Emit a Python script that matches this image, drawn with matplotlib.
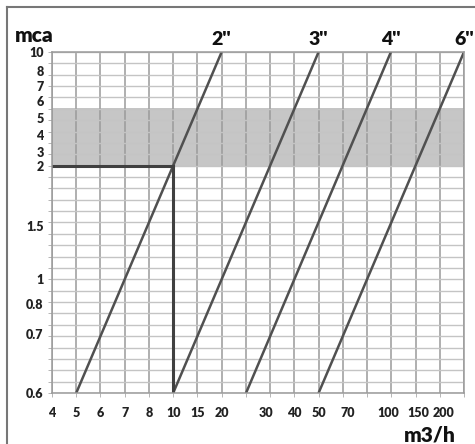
# Pipe sizing chart: head loss (mca) against flow (m3/h) for 2'' to 6'' pipes
import numpy as np
import matplotlib.pyplot as plt
from matplotlib.ticker import NullFormatter

plt.rcParams['font.family'] = ['Lato', 'DejaVu Sans']
plt.rcParams['font.weight'] = 'bold'

# axis values and where they sit on the (uneven) printed grid
flow_ticks = [4, 5, 6, 7, 8, 10, 15, 20, 30, 40, 50, 70, 100, 150, 200]
flow_edge = 250
flow_grid = [0, 1, 2, 3, 4, 5, 6, 7, 8.83, 10, 11, 12.2, 13.86, 15.1, 16.17, 17]

head_ticks = [0.6, 0.7, 0.8, 1, 1.5, 2, 3, 4, 5, 6, 7, 8, 10]
head_grid = [0, 5.2, 7.8, 10, 14.7, 20, 21.2, 22.7, 24.2, 25.7, 27, 28.33, 30]

# pipe lines (start and end flow, at the bottom and top of the head range)
pipes = ["2''", "3''", "4''", "6''"]
flow_start = [5, 10, 25.5, 50]
flow_end = [20, 50, 105, 250]
head_low = 0.6
head_high = 10

# operating point and recommended band
flow_op = 10
head_op = 2
band = [2, 5.6]

x_vals = flow_ticks + [flow_edge]


def fwd_x(v):
    return np.interp(v, x_vals, flow_grid)


def inv_x(p):
    return np.interp(p, flow_grid, x_vals)


def fwd_y(v):
    return np.interp(v, head_ticks, head_grid)


def inv_y(p):
    return np.interp(p, head_grid, head_ticks)


fig = plt.figure(figsize=(4.75, 4.44), dpi=100)
ax = fig.add_axes([52 / 475, 51 / 444, 412 / 475, 341 / 444])
ax.set_xscale('function', functions=(fwd_x, inv_x))
ax.set_yscale('function', functions=(fwd_y, inv_y))
ax.set_xlim(flow_ticks[0], flow_edge)
ax.set_ylim(head_low, head_high)

# grid: evenly spaced lines on the printed chart
ax.xaxis.remove_overlapping_locs = False
ax.yaxis.remove_overlapping_locs = False
ax.set_xticks(inv_x(np.arange(0, 18)), minor=True)
ax.set_yticks(inv_y(np.arange(0, 31)), minor=True)
ax.xaxis.set_minor_formatter(NullFormatter())
ax.yaxis.set_minor_formatter(NullFormatter())
ax.grid(which='minor', axis='x', color='#9a9a9a', lw=1.1)
ax.grid(which='minor', axis='y', color='#c4c4c4', lw=1.0)
ax.set_axisbelow(True)

ax.set_xticks(flow_ticks)
ax.set_xticklabels([str(v) for v in flow_ticks], fontweight='heavy', fontsize=9)
ax.set_yticks(head_ticks)
ax.set_yticklabels([format(v, 'g') for v in head_ticks], fontweight='heavy', fontsize=9)
ax.tick_params(which='major', length=0, colors='#222222')
ax.tick_params(axis='x', which='major', pad=10)
ax.tick_params(axis='y', which='major', pad=6)
ax.tick_params(which='minor', length=3, color='#aaaaaa')
for s in ax.spines.values():
    s.set_color('#9a9a9a')
    s.set_linewidth(1.1)

ax.axhspan(band[0], band[1], facecolor='#c6c6c6', lw=0, zorder=0.3)

for name, q0, q1 in zip(pipes, flow_start, flow_end):
    ax.plot([q0, q1], [head_low, head_high], color='#505050', lw=1.8)
    ax.annotate(name, (q1, head_high), xytext=(0, 3), textcoords='offset points',
                ha='center', va='bottom', fontsize=14, fontweight='heavy',
                color='#111111', annotation_clip=False)

ax.plot([flow_ticks[0], flow_op], [head_op, head_op], color='#404040', lw=2.2)
ax.plot([flow_op, flow_op], [head_low, head_op], color='#404040', lw=2.2)

fig.text(34 / 475, 1 - 35 / 444, 'mca', ha='center', va='center', fontsize=15,
         fontweight='heavy', color='#111111')
fig.text(430 / 475, 1 - 435 / 444, 'm3/h', ha='center', va='center', fontsize=15,
         fontweight='heavy', color='#111111')

# outer frame (left and top edges)
fig.add_artist(plt.Line2D([7 / 475, 7 / 475], [0, 1 - 7 / 444], color='#777777', lw=1.5))
fig.add_artist(plt.Line2D([7 / 475, 1], [1 - 7 / 444, 1 - 7 / 444], color='#777777', lw=1.5))

fig.savefig('out.png', dpi=100)
